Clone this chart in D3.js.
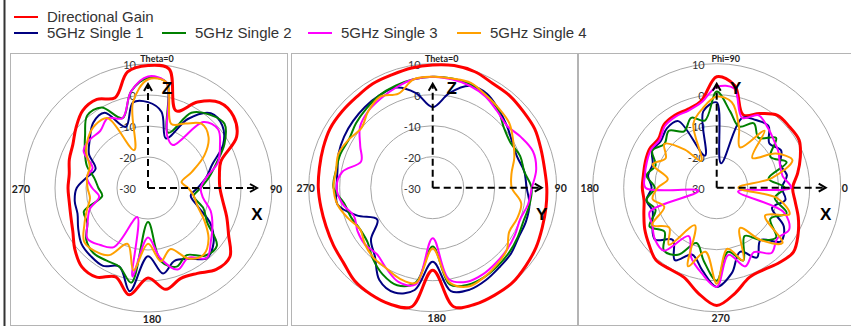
<!DOCTYPE html>
<html>
<head>
<meta charset="utf-8">
<script src="https://cdn.jsdelivr.net/npm/d3@7"></script>
<style>
  body { margin: 0; background: #fff; }
  svg { display: block; }
</style>
</head>
<body>
<div id="chart"></div>
<script>
// sample angles in degrees (theta cuts: clockwise from top)
let thetaAngles = [0, 10, 20, 30, 40, 50, 60, 70, 80, 90, 100, 110, 120, 130, 140, 150, 160, 170,
    180, 190, 200, 210, 220, 230, 240, 250, 260, 270, 280, 290, 300, 310, 320, 330, 340, 350];
// phi cut: 0 on the right, counter clockwise, read starting from the top
let phiAngles = [90, 80, 70, 60, 50, 40, 30, 20, 10, 0, 350, 340, 330, 320, 310, 300, 290, 280,
    270, 260, 250, 240, 230, 220, 210, 200, 190, 180, 170, 160, 150, 140, 130, 120, 110, 100];

let seriesNames = ["Directional Gain", "5GHz Single 1", "5GHz Single 2", "5GHz Single 3", "5GHz Single 4"];
let seriesColors = ["#ff0000", "#000080", "#008000", "#ff00ff", "#ffa000"];

// gain in dB, XZ plane (phi=0)
let xzGain = [9.5, 9, -3.5, 2, 6, 6, 3, -5, -6.6, -6.8, -5.5, -3, 0, 4.5, 4.3, 1.8, 1, 3.2,
    -1, 5, 0.5, 3.2, 3.2, 0.8, -2, -3.5, -4.2, -4.2, -4.2, -3, -2, 0.3, 2.7, 3, 1, 8];
let xzSingle1 = [-2.3, -5, -13, -4.3, 1.5, 1.3, -2, -8, -11, -14, -16, -13, -6.6, -2.4, -0.5, -3.6, -5, -2,
    -8, 3.8, -3, -1, -1.3, -2, -4, -5.8, -6, -7, -10, -12, -8, -5.5, -2.5, -2, -9, -2];
let xzSingle2 = [5.5, 4.5, -11, -2, 0.9, 2.2, -1.5, -6.5, -10, -13, -15, -11, -8, -1, -1.5, -5, -3, -6,
    -19, 1, -3, -3, -2.6, -4, -7.4, -8, -15, -14, -12.5, -9, -6.5, -3.5, 0.5, 0, -6, 1.6];
let xzSingle3 = [6, 4.5, -12, -14, -2.2, -0.5, -3.2, -6, -11, -13, -12, -8.5, -6, -3.5, -0.5, -4, -2, -7,
    -14, -1, -20, -8, -6, -4.5, -7.5, -10, -14, -12, -10, -11, -6, -5.6, -6, -4, -6, 1.6];
let xzSingle4 = [5, 4.5, -8, -6, -3, -4.5, -9, -15, -19, -17, -15, -13, -9, -4.5, -2, -3.7, -9, -6,
    -12, -3, -10.8, -5, -3.4, -3.1, -6.3, -9, -11, -10.5, -10, -10, -7, -4.8, -3.5, -4, -17, -2];

// gain in dB, YZ plane (phi=90)
let yzGain = [9.6, 10, 9.8, 8.8, 8.7, 8.2, 8, 7.1, 6.6, 6.8, 7.1, 7.6, 8.5, 9.2, 10, 10, 10, 9,
    -3.4, 9, 10, 9.8, 9.2, 7.6, 7, 6.6, 6.6, 6.9, 7.1, 7.6, 8.2, 8.2, 8.2, 8.7, 8.7, 9.2];
let yzSingle1 = [-4, 1, 5, 5, 3, 1.2, -0.4, -1, 0, 0.3, 1.7, 2, 2, 3, 3.5, 4.4, 5, 3.9,
    -6.1, 3.5, 6, 4.4, -1, -4, -9.4, -3.9, 1.2, 1, 1.2, 2.3, 3, 3.5, 4, 4.4, 4.4, 1];
let yzSingle2 = [5.8, 5.8, 5.5, 4.4, 2.8, 0, -1, 0, 0, 1.9, 1.7, 1.2, 1.7, 2.3, 2.8, 3.3, 3.3, 1.7,
    -11, 1, 3.5, 2.3, 0, -2.6, -3, -2, -1, 2, 1.7, 1.7, 1.2, 2.3, 3.3, 4.4, 5, 5.5];
let yzSingle3 = [5.8, 5.5, 5, 4, 2.3, 1.2, 2.8, 4.4, 3.9, 2, 1.2, 0, 0.6, 1.2, 1.7, 2.3, 2.3, 0,
    -13.7, 1.7, 2.3, 0, -2, -1.5, -2, -3, -0.4, 1, -0.4, -5.4, -3, 0.6, 2.3, 3.3, 4.4, 5.5];
let yzSingle4 = [5.8, 5.8, 6, 4.4, 3.3, 2.3, 0, -2, -4.2, -4.5, -1, -1, -1.5, 1.2, 2.3, 3.3, 3.9, 1,
    -10.4, 1.2, 1.2, 0, -0.4, -1.5, -3, -1, 1.2, 2, 1.7, 2.3, 1.2, 0, 2.3, 3.9, 2.3, 5.5];

// gain in dB, XY plane (theta=90), in the order of phiAngles
let xyGain = [5.8, 3.5, -5, -2.4, 0.5, 0.6, 0.7, -1.3, -3.5, -5.5, -4.3, -2, 0.3, 2.3, 1.5, 0.5, 0.8, 4.5,
    8, 4.5, 0.8, 0.3, 0.5, -1.5, -3.2, -5, -6.2, -6, -6, -5.5, -5, -5.5, -3.5, -3, -3, -1.5];
let xySingle1 = [-2.5, -22, -6, -4.8, -4, -7.8, -6, -8.2, -7, -9, -7.5, -11, -5, -3, -8, -4, -8, -2,
    2, -3, -7, -3, -8, -4, -6, -8, -7, -9, -7.5, -8, -6, -6.5, -5, -5.2, -19, -5];
let xySingle2 = [1, -5, -9, -6, -9, -5, -10, -6, -13, -8, -11, -6, -10, -5, -8, -12, -5, -9,
    0, -6, -11, -5, -3.5, -8, -5, -9, -7, -10, -7, -9, -6, -8, -6, -9, -6, -8];
let xySingle3 = [2.5, 2.5, -6, -3, -4.5, -6, -7, -8.3, -8.4, -6, -23, -7, -3, -4.5, -2.5, -6, -3, -8,
    2, -2, -6, -12, -3.5, -4, -6, -7, -24, -7, -6.5, -6, -5.5, -6, -4, -3.5, -3.5, -2];
let xySingle4 = [-0.6, -2, -9, -15, -6, -15, -8, -4, -12, -23, -10, -5, -12, -2.3, -8, -15, -5, -10,
    1, -9, -3, -16, -6, -10, -6, -12, -9, -11, -14, -8, -11, -8, -14, -20, -8, -4];

// rings and labels
let ringTicks = [10, 0, -10, -20, -30];
let xzLabels = ["Theta=0", "90", "180", "270"];
let yzLabels = ["Theta=0", "90", "180", "270"];
let xyLabels = ["Phi=90", "0", "270", "180"];
let xzAxes = ["Z", "X"];
let yzAxes = ["Z", "Y"];
let xyAxes = ["Y", "X"];

let panels = [
    {cx: 148, cy: 188, box: [10, 53, 277, 272], angles: thetaAngles, screen: a => a,
     series: [xzGain, xzSingle1, xzSingle2, xzSingle3, xzSingle4], labels: xzLabels, axes: xzAxes},
    {cx: 432.7, cy: 187.7, box: [291, 53, 286, 272], angles: thetaAngles, screen: a => a,
     series: [yzGain, yzSingle1, yzSingle2, yzSingle3, yzSingle4], labels: yzLabels, axes: yzAxes},
    {cx: 716.7, cy: 187.7, box: [578, 53, 280, 272], angles: phiAngles, screen: a => 90 - a,
     series: [xyGain, xySingle1, xySingle2, xySingle3, xySingle4], labels: xyLabels, axes: xyAxes}
];

let svg = d3.select("#chart").append("svg")
    .attr("width", 851)
    .attr("height", 326);

// dark rule on the left edge
svg.append("line")
    .attr("x1", 4.5).attr("x2", 4.5)
    .attr("y1", 0).attr("y2", 326)
    .attr("stroke", "#333")
    .attr("stroke-width", 2);

// legend
let legendPos = [[14, 17], [14, 33], [162, 33], [308, 33], [457, 33]];
seriesNames.forEach((name, i) => {
    let lg = svg.append("g").attr("transform", `translate(${legendPos[i][0]},${legendPos[i][1]})`);
    lg.append("line")
        .attr("x1", 0).attr("x2", 24)
        .attr("stroke", seriesColors[i])
        .attr("stroke-width", 2);
    lg.append("text")
        .attr("x", 33)
        .attr("dy", "0.35em")
        .attr("font-family", "Liberation Sans, Arial, sans-serif")
        .attr("font-size", 15)
        .attr("fill", "#333")
        .text(name);
});

let radialScale = d3.scaleLinear()
    .domain([-30, 10])
    .range([0, 124]);

panels.forEach(p => {
    svg.append("rect")
        .attr("x", p.box[0] + 0.5).attr("y", p.box[1] + 0.5)
        .attr("width", p.box[2]).attr("height", p.box[3])
        .attr("fill", "none")
        .attr("stroke", "#b4b4b4");

    let g = svg.append("g").attr("transform", `translate(${p.cx},${p.cy})`);

    // grid circles
    ringTicks.filter(t => t > -30).forEach(t =>
        g.append("circle")
            .attr("r", radialScale(t))
            .attr("fill", "none")
            .attr("stroke", "#a6a6a6")
            .attr("stroke-width", 1)
    );

    ringTicks.forEach(t =>
        g.append("text")
            .attr("x", -12)
            .attr("y", -radialScale(t) + 1)
            .attr("dy", "0.35em")
            .attr("text-anchor", "end")
            .attr("font-family", "Lato, sans-serif")
            .attr("font-size", 11)
            .attr("fill", "#333")
            .text(t)
    );

    // angle labels: top, right, bottom, left
    let labelPos = [[9, -129], [128, 1], [4, 131], [-127, 1]];
    p.labels.forEach((lab, i) =>
        g.append("text")
            .attr("x", labelPos[i][0])
            .attr("y", labelPos[i][1])
            .attr("dy", "0.35em")
            .attr("text-anchor", "middle")
            .attr("font-family", "Lato, sans-serif")
            .attr("font-weight", "bold")
            .attr("font-size", i == 0 ? 9 : 10.5)
            .attr("fill", "#222")
            .text(lab)
    );

    let line = d3.lineRadial()
        .angle(d => p.screen(d[0]) * Math.PI / 180)
        .radius(d => radialScale(d[1]))
        .curve(d3.curveCatmullRomClosed.alpha(0.5));

    p.series.forEach((vals, i) => {
        g.append("path")
            .datum(p.angles.map((a, k) => [a, vals[k]]))
            .attr("d", line)
            .attr("fill", "none")
            .attr("stroke", seriesColors[i])
            .attr("stroke-width", i == 0 ? 3 : 2)
            .attr("stroke-linejoin", "round");
    });

    // dashed axis arrows
    g.append("line")
        .attr("x1", 0).attr("y1", 0)
        .attr("x2", 0).attr("y2", -103)
        .attr("stroke", "#000").attr("stroke-width", 2)
        .attr("stroke-dasharray", "7,4");
    g.append("path")
        .attr("d", "M-4,-97L0,-104L4,-97")
        .attr("fill", "none").attr("stroke", "#000").attr("stroke-width", 2);
    g.append("line")
        .attr("x1", 0).attr("y1", 0)
        .attr("x2", 108).attr("y2", 0)
        .attr("stroke", "#000").attr("stroke-width", 2)
        .attr("stroke-dasharray", "7,4");
    g.append("path")
        .attr("d", "M102,-4L109,0L102,4")
        .attr("fill", "none").attr("stroke", "#000").attr("stroke-width", 2);

    let axisPos = [[19, -100], [109, 26]];
    p.axes.forEach((lab, i) =>
        g.append("text")
            .attr("x", axisPos[i][0])
            .attr("y", axisPos[i][1])
            .attr("dy", "0.35em")
            .attr("text-anchor", "middle")
            .attr("font-family", "Liberation Sans, Arial, sans-serif")
            .attr("font-weight", "bold")
            .attr("font-size", 17)
            .attr("fill", "#000")
            .text(lab)
    );
});
</script>
</body>
</html>
